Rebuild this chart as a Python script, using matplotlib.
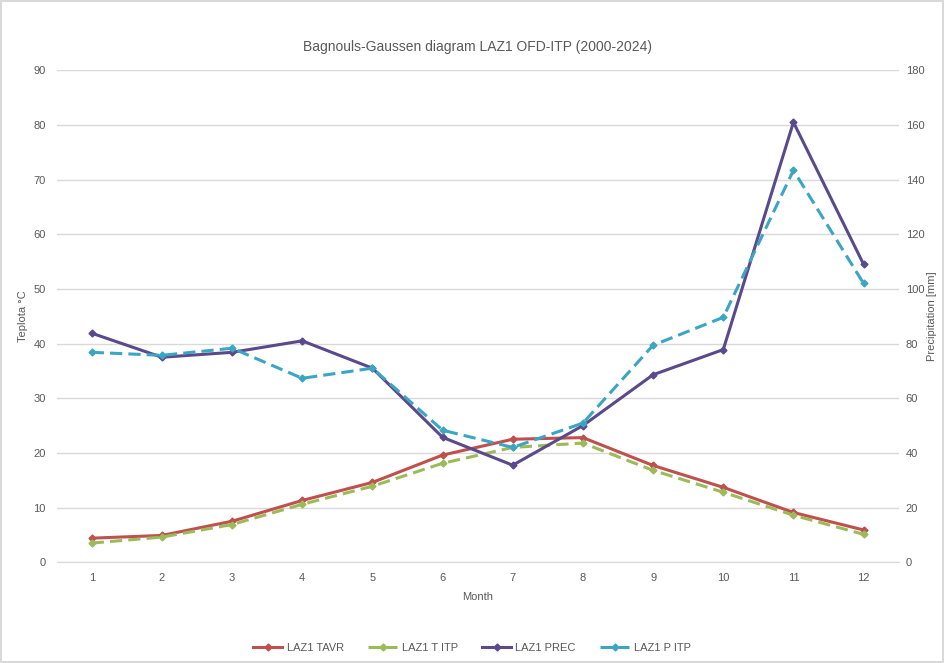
import numpy as np
import matplotlib.pyplot as plt
from matplotlib.lines import Line2D

plt.rcParams['font.family'] = ['Liberation Sans Narrow', 'Liberation Sans', 'DejaVu Sans']

months = ["1", "2", "3", "4", "5", "6", "7", "8", "9", "10", "11", "12"]

# temperature (deg C) - station average and ITP
t_avr = [4.4, 4.9, 7.5, 11.3, 14.6, 19.6, 22.5, 22.8, 17.7, 13.7, 9.1, 5.9]
t_itp = [3.5, 4.6, 6.9, 10.6, 13.9, 18.1, 21.0, 21.8, 16.8, 12.8, 8.6, 5.1]

# precipitation (mm) - station and ITP
p_prec = [83.8, 75.0, 76.8, 81.0, 71.0, 45.7, 35.5, 50.0, 68.6, 77.8, 161.0, 109.0]
p_itp = [76.8, 75.7, 78.3, 67.3, 71.0, 48.3, 42.0, 50.9, 79.4, 89.6, 143.4, 102.0]

c_red = "#c0504d"
c_green = "#9bbb59"
c_purple = "#5a4a8c"
c_cyan = "#3aa6c4"
grey = "#595959"

fig = plt.figure(figsize=(9.44, 6.63), dpi=100)
fig.patch.set_edgecolor("#d9d9d9")
fig.patch.set_linewidth(1.5)
ax = fig.add_axes([0.060, 0.152, 0.892, 0.742])
ax2 = ax.twinx()

x = np.arange(len(months))

ax.plot(x, t_avr, color=c_red, lw=2.2, marker="D", ms=3.5, zorder=3)
ax.plot(x, t_itp, color=c_green, lw=2.2, ls=(0, (4, 2)), marker="D", ms=3.5, zorder=3)
ax2.plot(x, p_prec, color=c_purple, lw=2.2, marker="D", ms=3.5, zorder=3)
ax2.plot(x, p_itp, color=c_cyan, lw=2.2, ls=(0, (4, 2)), marker="D", ms=3.5, zorder=3)

ax.set_xlim(-0.5, 11.5)
ax.set_ylim(0, 90)
ax2.set_ylim(0, 180)
ax.set_yticks(np.arange(0, 91, 10))
ax2.set_yticks(np.arange(0, 181, 20))
ax.set_xticks(x)
ax.set_xticklabels(months)

ax.yaxis.grid(True, color="#d9d9d9", lw=1)
ax.set_axisbelow(True)
for a in (ax, ax2):
    for s in a.spines.values():
        s.set_visible(False)
    a.tick_params(length=0, labelsize=8, colors=grey, pad=8)
ax2.tick_params(pad=5)
ax.spines["bottom"].set_visible(True)
ax.spines["bottom"].set_color("#d9d9d9")

ax.set_xlabel("Month", fontsize=8, color=grey, labelpad=6)
ax.set_ylabel("Teplota °C", fontsize=8, color=grey, labelpad=4)
ax2.set_ylabel("Precipitation [mm]", fontsize=8, color=grey, labelpad=2)
ax.set_title("Bagnouls-Gaussen diagram LAZ1 OFD-ITP (2000-2024)", fontsize=10,
             color=grey, pad=14)

handles = [
    Line2D([], [], color=c_red, lw=2.2, marker="D", ms=3.5),
    Line2D([], [], color=c_green, lw=2.2, ls=(0, (4, 2)), marker="D", ms=3.5),
    Line2D([], [], color=c_purple, lw=2.2, marker="D", ms=3.5),
    Line2D([], [], color=c_cyan, lw=2.2, ls=(0, (4, 2)), marker="D", ms=3.5),
]
labels = ["LAZ1 TAVR", "LAZ1 T ITP", "LAZ1 PREC", "LAZ1 P ITP"]
leg = fig.legend(handles, labels, loc="center", bbox_to_anchor=(0.5, 0.023), ncol=4,
                 frameon=False, fontsize=8, handlelength=2.6, columnspacing=2.2,
                 handletextpad=0.4)
for t in leg.get_texts():
    t.set_color(grey)

fig.savefig("out.png", dpi=100, edgecolor=fig.get_edgecolor())
